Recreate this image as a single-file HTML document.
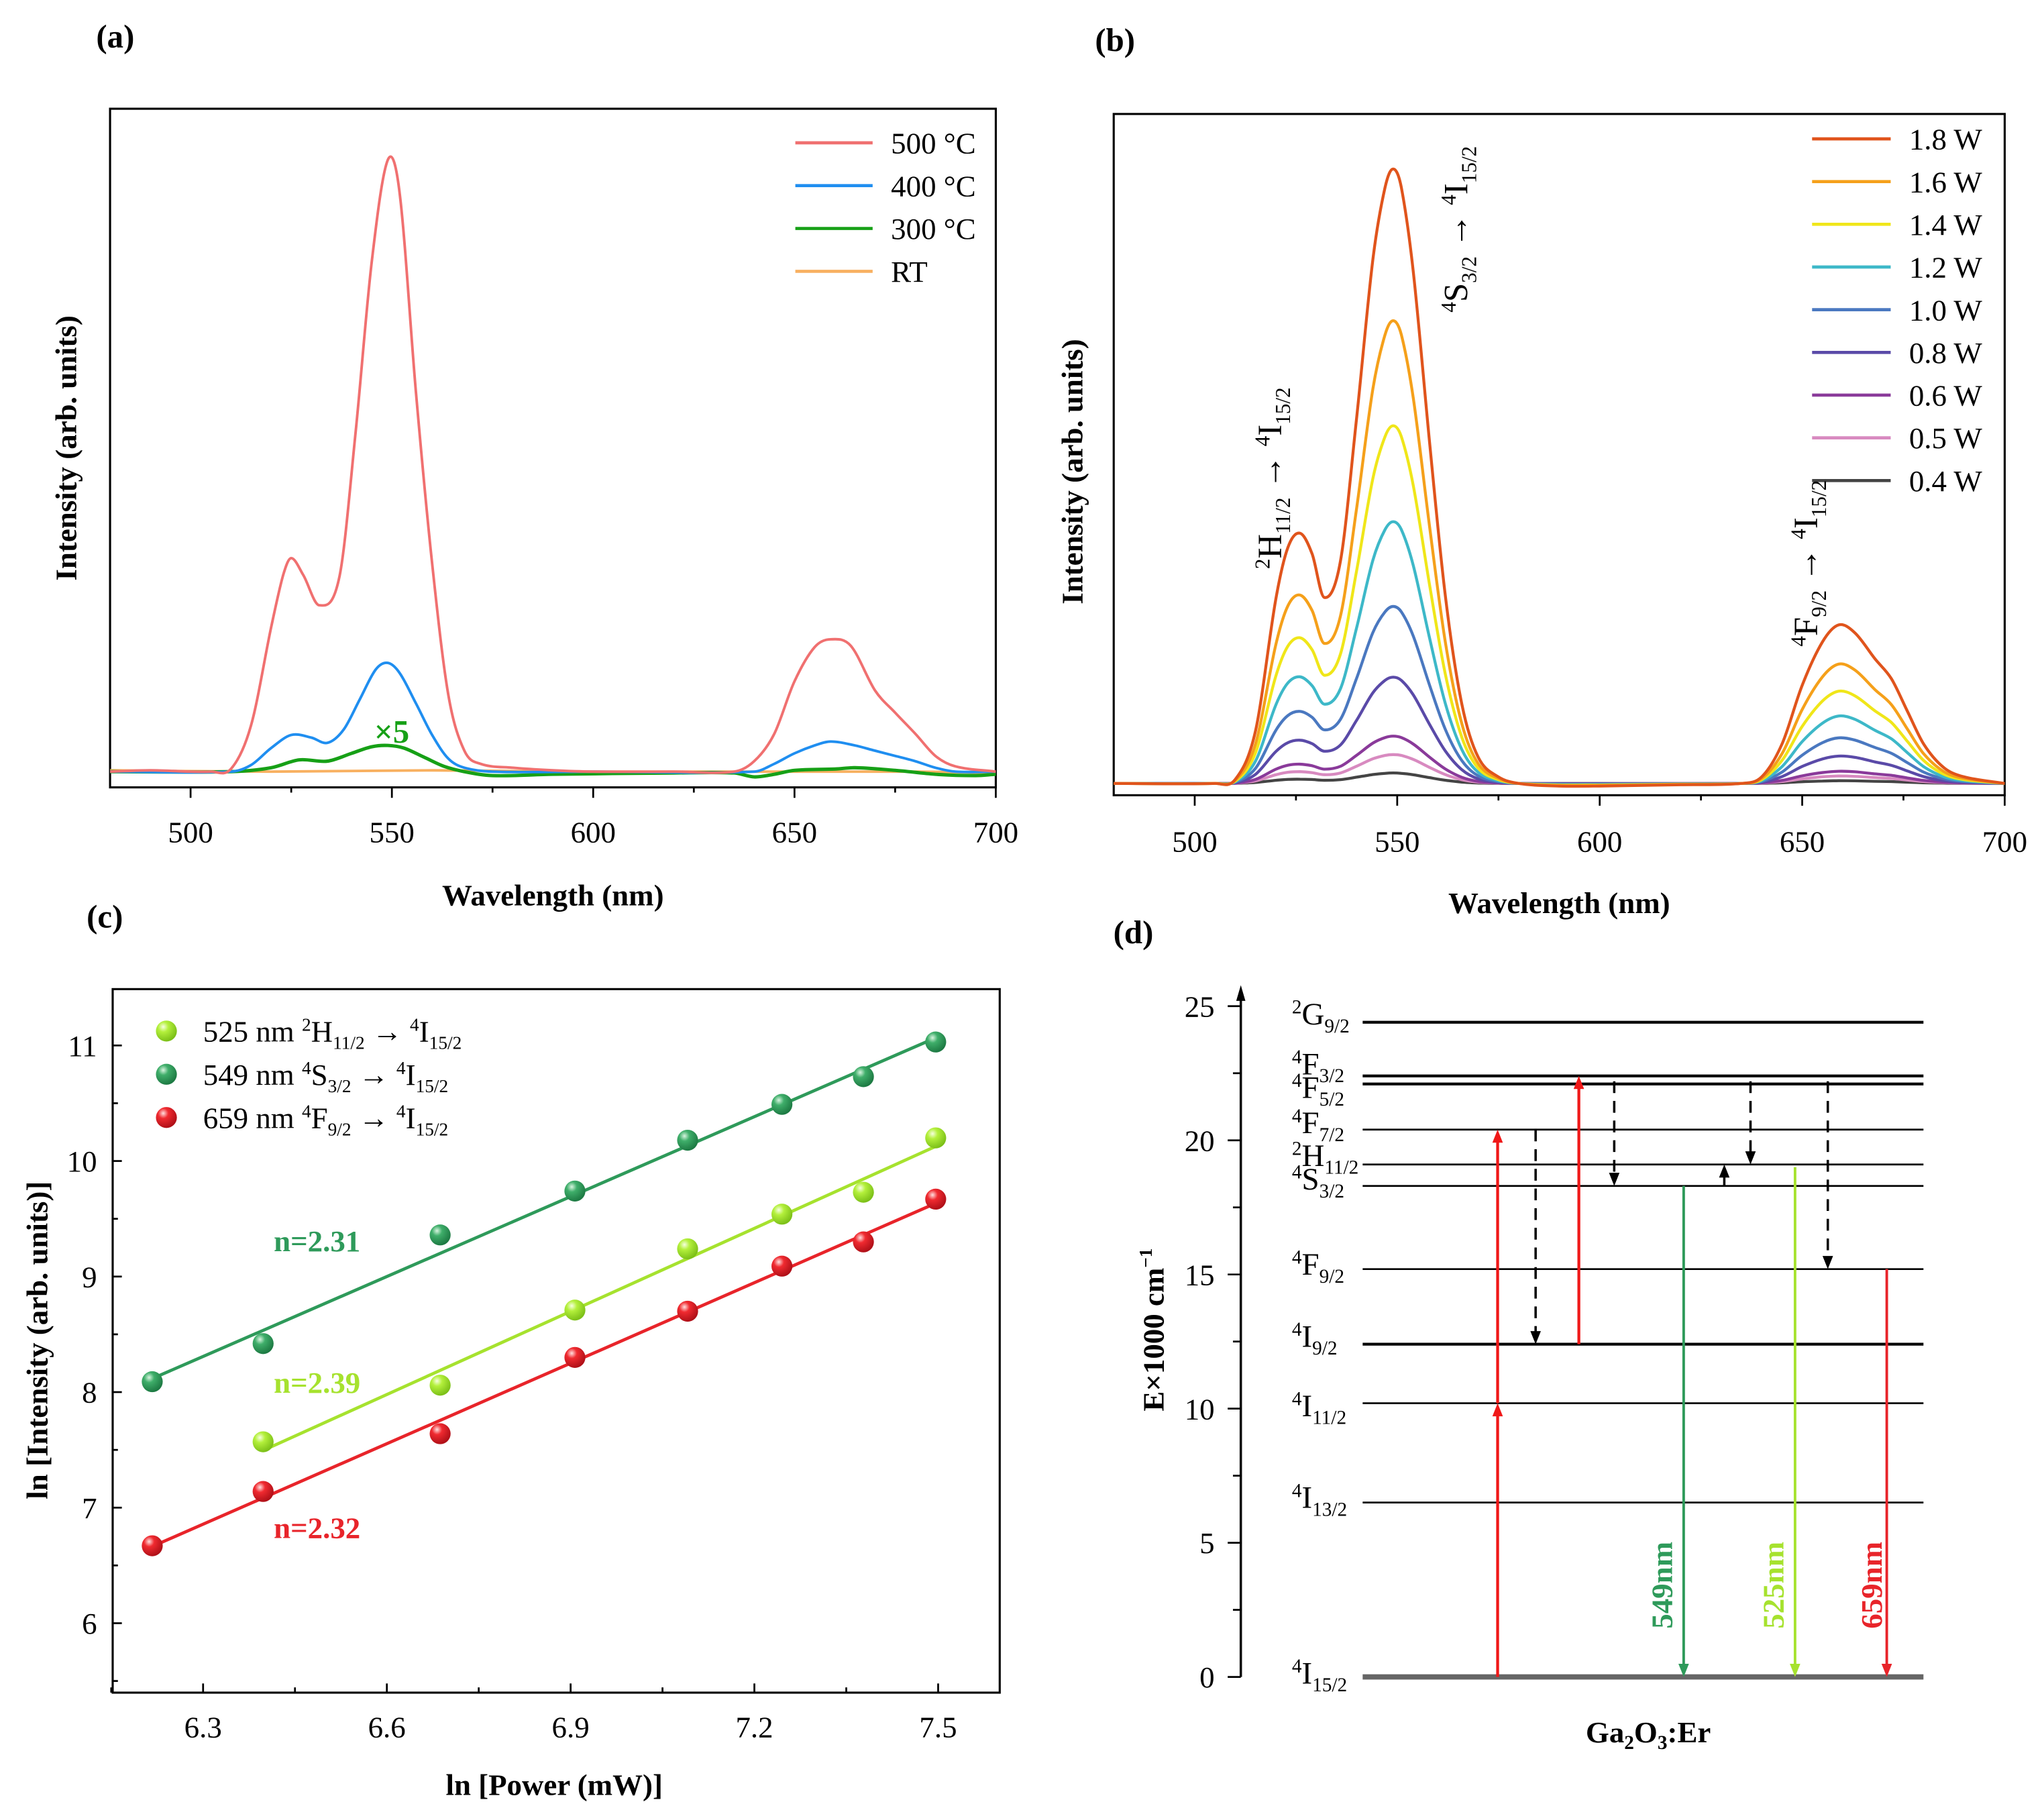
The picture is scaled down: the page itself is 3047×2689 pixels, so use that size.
<!DOCTYPE html>
<html><head><meta charset="utf-8"><style>
html,body{margin:0;padding:0;background:#fff;}
svg{display:block;font-family:"Liberation Serif",serif;}
</style></head><body>
<svg id="fig" xmlns="http://www.w3.org/2000/svg" width="3047" height="2689" viewBox="0 0 1560 1377" preserveAspectRatio="none" font-family="Liberation Serif, serif">
<defs>
<radialGradient id="gDark" cx="0.35" cy="0.3" r="0.7"><stop offset="0" stop-color="#d8f5e0"/><stop offset="0.35" stop-color="#3fae6a"/><stop offset="1" stop-color="#1d7a43"/></radialGradient>
<radialGradient id="gLight" cx="0.35" cy="0.3" r="0.7"><stop offset="0" stop-color="#f6ffe0"/><stop offset="0.35" stop-color="#b4f03c"/><stop offset="1" stop-color="#7cc018"/></radialGradient>
<radialGradient id="gRed" cx="0.35" cy="0.3" r="0.7"><stop offset="0" stop-color="#ffe0e0"/><stop offset="0.35" stop-color="#f02a30"/><stop offset="1" stop-color="#b01018"/></radialGradient>
</defs>
<g id="pa"></g>
<g id="pb"></g>
<g id="pc"></g>
<g id="pd"></g>
</svg>
<script>
// ---------- Panel (a) data ----------
const aX500 = [480,490,500,505,510,515,520,523,525,528,532,537,541,545,549,552,556,560,564,568,572,580,590,600,620,635,640,645,650,655,659,664,670,675,680,685,690,700];
const aY500 = [0,1,0,0,2,35,110,150,163,150,127,149,259,389,467,440,289,159,59,16,6,3,1,0,0,0,8,29,69,95,101,96,62,45,29,12,4,0];
const aX400 = [480,510,515,520,525,530,534,538,542,546,549,552,556,560,564,568,575,600,640,645,650,655,659,665,670,675,680,685,690,700];
const aY400 = [0,0,5,18,28,26,22,32,55,78,83,75,52,28,10,3,0,0,0,6,14,20,23,20,16,12,8,3,0,0];
const aX300 = [480,510,520,527,534,540,545,549,553,558,563,568,575,590,620,635,640,645,650,660,665,675,685,695,700];
const aY300 = [0,0,3,9,8,14,19,20,18,11,4,0,-3,-2,-1,-1,-4,-2,1,2,3,1,-2,-3,-2];
const aXRT = [480,520,560,600,640,680,700];
const aYRT = [1,0,1,0,0,0,-1];
const aTicks = [500,550,600,650,700];
const aLegend = ["500 °C","400 °C","300 °C","RT"];

// ---------- Panel (b) data ----------
const bX = [480,505,510,515,520,523,526,529,532,536,540,544,547,549,551,554,558,562,566,570,575,580,590,600,620,635,640,645,650,655,659,663,668,672,676,680,685,690,700];
const bShape = [0,0,3,40,140,180,191,175,142,170,280,400,455,469,455,390,260,140,60,20,5,0,-2,-2,-1,0,5,30,75,108,121,115,95,80,55,30,12,5,0];
const bAmp = [1,0.753,0.582,0.426,0.288,0.173,0.077,0.047,0.017];
const bLegend = ["1.8 W","1.6 W","1.4 W","1.2 W","1.0 W","0.8 W","0.6 W","0.5 W","0.4 W"];
const bTicks = [500,550,600,650,700];

// ---------- Panel (c) data ----------
const cX = [6.217,6.398,6.687,6.907,7.091,7.245,7.378,7.496];
const c549 = [8.09,8.42,9.36,9.74,10.18,10.49,10.73,11.03];
const cX525 = [6.398,6.687,6.907,7.091,7.245,7.378,7.496];
const c525 = [7.57,8.06,8.71,9.24,9.54,9.73,10.20];
const c659 = [6.67,7.14,7.64,8.30,8.70,9.09,9.30,9.67];
const cXTicks = [6.3,6.6,6.9,7.2,7.5];
const cYTicks = [6,7,8,9,10,11];
const cSlopes = ["n=2.31","n=2.39","n=2.32"];

// ---------- Panel (d) data ----------
const dLevels = [24.4,22.4,22.1,20.4,19.1,18.3,15.2,12.4,10.2,6.5,0];
const dYTicks = [0,5,10,15,20,25];

const NS="http://www.w3.org/2000/svg";
function mk(parent,tag,attrs){const e=document.createElementNS(NS,tag);for(const k in attrs)e.setAttribute(k,attrs[k]);parent.appendChild(e);return e;}
function smooth(pts){let d="M"+pts[0][0].toFixed(1)+","+pts[0][1].toFixed(1);
 const n=pts.length,m=[];
 for(let i=0;i<n;i++){const a=pts[Math.max(0,i-1)],b=pts[Math.min(n-1,i+1)];m.push((b[1]-a[1])/(b[0]-a[0]));}
 for(let i=0;i<n-1;i++){const p1=pts[i],p2=pts[i+1],dx=(p2[0]-p1[0])/3;
 d+="C"+(p1[0]+dx).toFixed(1)+","+(p1[1]+m[i]*dx).toFixed(1)+" "+(p2[0]-dx).toFixed(1)+","+(p2[1]-m[i+1]*dx).toFixed(1)+" "+p2[0].toFixed(1)+","+p2[1].toFixed(1);}return d;}
function txt(parent,x,y,html,attrs){const t=mk(parent,"text",Object.assign({x:x,y:y,"font-family":"Liberation Serif, serif"},attrs||{}));t.innerHTML=html;return t;}
function term(sup,main,sub,fs){const s=Math.round(fs*0.62);return `<tspan font-size="${s}" dy="${-fs*0.35}">${sup}</tspan><tspan dy="${fs*0.35}">${main}</tspan><tspan font-size="${s}" dy="${fs*0.25}">${sub}</tspan><tspan dy="${-fs*0.25}"> </tspan>`;}

// ================= Panel A =================
const pa=document.getElementById("pa");
const xa=v=>84+(v-480)*(676/220), ya=v=>589-v;
const fa=mk(pa,"rect",{x:84,y:83,width:676,height:518,fill:"none",stroke:"#000","stroke-width":1.6});


for(let v=500;v<=700;v+=25){const l=mk(pa,"line",{x1:xa(v),x2:xa(v),y1:601,y2:v%50===0?609:605,stroke:"#000","stroke-width":1.4});

}
aTicks.forEach(v=>{const t=txt(pa,xa(v),643,v,{"font-size":23,"text-anchor":"middle"});

});
const sA=[[aX500,aY500,"#f07070"],[aX400,aY400,"#1f8ef0"],[aX300,aY300,"#16a016"],[aXRT,aYRT,"#f8b060"]];
const aNames=["series-500c","series-400c","series-300c","series-rt"];
sA.slice().reverse().forEach((s,ri)=>{const i=3-ri;const p=mk(pa,"path",{d:smooth(s[0].map((x,j)=>[xa(x),ya(s[1][j])])),fill:"none",stroke:s[2],"stroke-width":i===2?2.6:2});

});
const x5=txt(pa,299,567,"×5",{"font-size":25,"font-weight":"bold",fill:"#16a016","text-anchor":"middle"});


aLegend.forEach((n,i)=>{const y=109+i*32.7;const l=mk(pa,"line",{x1:607,x2:666,y1:y,y2:y,stroke:sA[i][2],"stroke-width":2.4});


const t=txt(pa,680,y+8,n,{"font-size":23});

});
let t=txt(pa,422,691,"Wavelength (nm)",{"font-size":23,"font-weight":"bold","text-anchor":"middle"});


t=txt(pa,0,0,"Intensity (arb. units)",{"font-size":23,"font-weight":"bold","text-anchor":"middle",transform:"translate(58,342) rotate(-90)"});


t=txt(pa,88,36,"(a)",{"font-size":25,"font-weight":"bold","text-anchor":"middle"});



// ================= Panel B =================
const pb=document.getElementById("pb");
const xb=v=>850+(v-480)*(680/220), yb=v=>598-v;
const fb=mk(pb,"rect",{x:850,y:87,width:680,height:520,fill:"none",stroke:"#000","stroke-width":1.6});


for(let v=500;v<=700;v+=25){const l=mk(pb,"line",{x1:xb(v),x2:xb(v),y1:607,y2:v%50===0?615:611,stroke:"#000","stroke-width":1.4});

}
bTicks.forEach(v=>{const t=txt(pb,xb(v),650,v,{"font-size":23,"text-anchor":"middle"});

});
const bCol=["#e0541c","#f5a01a","#f0e619","#3db8c8","#4a78c0","#5a4aa8","#8a3a9a","#d88ac0","#444444"];
for(let i=bAmp.length-1;i>=0;i--){const p=mk(pb,"path",{d:smooth(bX.map((x,j)=>[xb(x),yb(bShape[j]*bAmp[i])])),fill:"none",stroke:bCol[i],"stroke-width":2.2});

}
bLegend.forEach((n,i)=>{const y=106+i*32.6;const l=mk(pb,"line",{x1:1383,x2:1443,y1:y,y2:y,stroke:bCol[i],"stroke-width":2.4});


const t=txt(pb,1457,y+8,n,{"font-size":23});

});
t=txt(pb,0,0,term("2","H","11/2",26)+"→ "+term("4","I","15/2",26),{"font-size":26,"text-anchor":"middle",transform:"translate(978,365) rotate(-90)"});


t=txt(pb,0,0,term("4","S","3/2",26)+"→ "+term("4","I","15/2",26),{"font-size":26,"text-anchor":"middle",transform:"translate(1120,175) rotate(-90)"});


t=txt(pb,0,0,term("4","F","9/2",26)+"→ "+term("4","I","15/2",26),{"font-size":26,"text-anchor":"middle",transform:"translate(1387,430) rotate(-90)"});


t=txt(pb,1190,697,"Wavelength (nm)",{"font-size":23,"font-weight":"bold","text-anchor":"middle"});


t=txt(pb,0,0,"Intensity (arb. units)",{"font-size":23,"font-weight":"bold","text-anchor":"middle",transform:"translate(826,360) rotate(-90)"});


t=txt(pb,851,39,"(b)",{"font-size":25,"font-weight":"bold","text-anchor":"middle"});



// ================= Panel C =================
const pc=document.getElementById("pc");
const xc=v=>155+(v-6.3)*467.5, yc=v=>798-(v-11)*88.2;
const fc=mk(pc,"rect",{x:86,y:755,width:677,height:537,fill:"none",stroke:"#000","stroke-width":1.6});


for(let v=6.15;v<7.6;v+=0.15){const maj=Math.abs(((v-6.3)/0.3)-Math.round((v-6.3)/0.3))<0.01;const l=mk(pc,"line",{x1:xc(v),x2:xc(v),y1:1292,y2:maj?1285:1288,stroke:"#000","stroke-width":1.4});

}
for(let v=5.5;v<11.5;v+=0.5){const l=mk(pc,"line",{x1:86,x2:Number.isInteger(v)?93:90,y1:yc(v),y2:yc(v),stroke:"#000","stroke-width":1.4});

}
cXTicks.forEach(v=>{const t=txt(pc,xc(v),1326,v.toFixed(1),{"font-size":23,"text-anchor":"middle"});

});
cYTicks.forEach(v=>{const t=txt(pc,74,yc(v)+8,v,{"font-size":23,"text-anchor":"end"});

});
function fit(xs,ys){const n=xs.length,mx=xs.reduce((a,b)=>a+b)/n,my=ys.reduce((a,b)=>a+b)/n;let sxy=0,sxx=0;xs.forEach((x,i)=>{sxy+=(x-mx)*(ys[i]-my);sxx+=(x-mx)*(x-mx);});const m=sxy/sxx;return [m,my-m*mx];}
const cSeries=[[cX525,c525,"#a6e22e","url(#gLight)","525"],[cX,c549,"#2e9a5a","url(#gDark)","549"],[cX,c659,"#e8242a","url(#gRed)","659"]];
cSeries.forEach(s=>{const f=fit(s[0],s[1]);const x0=s[0][0],x1=s[0][s[0].length-1];
const l=mk(pc,"line",{x1:xc(x0),y1:yc(f[1]+f[0]*x0),x2:xc(x1),y2:yc(f[1]+f[0]*x1),stroke:s[2],"stroke-width":2.4});


s[0].forEach((x,i)=>{const c=mk(pc,"circle",{cx:xc(x),cy:yc(s[1][i]),r:8,fill:s[3]});

});});
const cLegTerms=[["525 nm ",term("2","H","11/2",23)+"→ "+term("4","I","15/2",23)],["549 nm ",term("4","S","3/2",23)+"→ "+term("4","I","15/2",23)],["659 nm ",term("4","F","9/2",23)+"→ "+term("4","I","15/2",23)]];
cLegTerms.forEach((lt,i)=>{const y=787+i*33;const c=mk(pc,"circle",{cx:127,cy:y,r:8,fill:cSeries[i][3]});


const t=txt(pc,155,y+8,lt[0]+lt[1],{"font-size":23});

});
const slopeY=[947,1055,1166],slopeC=["#2e9a5a","#a6e22e","#e8242a"];
cSlopes.forEach((s,i)=>{const t=txt(pc,242,slopeY[i]+8,s,{"font-size":23,"font-weight":"bold",fill:slopeC[i],"text-anchor":"middle"});

});
t=txt(pc,423,1370,"ln [Power (mW)]",{"font-size":23,"font-weight":"bold","text-anchor":"middle"});


t=txt(pc,0,0,"ln [Intensity (arb. units)]",{"font-size":23,"font-weight":"bold","text-anchor":"middle",transform:"translate(36,1023) rotate(-90)"});


t=txt(pc,80,708,"(c)",{"font-size":25,"font-weight":"bold","text-anchor":"middle"});



// ================= Panel D =================
const pd=document.getElementById("pd");
const yd=v=>1280-v*20.48;
let ax=mk(pd,"line",{x1:947,x2:947,y1:1280,y2:757,stroke:"#000","stroke-width":1.8});


ax=mk(pd,"path",{d:"M947,752 L943.5,764 L950.5,764 Z",fill:"#000"});


for(let v=0;v<=25;v+=2.5){const l=mk(pd,"line",{x1:947,x2:Number.isInteger(v/5)?937:941,y1:yd(v),y2:yd(v),stroke:"#000","stroke-width":1.4});

}
dYTicks.forEach(v=>{const t=txt(pd,927,yd(v)+8,v,{"font-size":23,"text-anchor":"end"});

});
const dLab=[["2","G","9/2",776],["4","F","3/2",814],["4","F","5/2",832],["4","F","7/2",859],["2","H","11/2",884],["4","S","3/2",902],["4","F","9/2",967],["4","I","9/2",1022],["4","I","11/2",1075],["4","I","13/2",1145],["4","I","15/2",1279]];
dLevels.forEach((v,i)=>{const heavy=[0,1,2,7].includes(i);const l=mk(pd,"line",{x1:1040,x2:1468,y1:yd(v),y2:yd(v),stroke:i===10?"#666":"#000","stroke-width":i===10?4:(heavy?2.2:1.4)});


const d=dLab[i];const t=txt(pd,986,d[3]+6,term(d[0],d[1],d[2],24),{"font-size":24});

});
function arrow(x,from,to,col,dash,w,name){const y1=yd(from),y2=yd(to);const dir=y2<y1?-1:1;
const l=mk(pd,"line",{x1:x,x2:x,y1:y1,y2:y2-dir*6,stroke:col,"stroke-width":w||2,"stroke-dasharray":dash?"9,6":"none"});


const h=mk(pd,"path",{d:`M${x},${y2} L${x-4},${y2-dir*10} L${x+4},${y2-dir*10} Z`,fill:col});

}
arrow(1143,0,10.2,"#f01818",false,2.2,"excitation-arrow-1");
arrow(1143,10.2,20.4,"#f01818",false,2.2,"excitation-arrow-2");
arrow(1205,12.4,22.4,"#f01818",false,2.2,"excitation-arrow-3");
arrow(1172,20.4,12.4,"#000",true,1.8,"relax-arrow-1");
arrow(1232,22.2,18.3,"#000",true,1.8,"relax-arrow-2");
arrow(1336,22.2,19.1,"#000",true,1.8,"relax-arrow-3");
arrow(1316,18.3,19.1,"#000",false,1.8,"thermal-arrow");
arrow(1395,22.2,15.2,"#000",true,1.8,"relax-arrow-4");
arrow(1285,18.3,0,"#2e9a5a",false,2,"emission-549");
arrow(1370,19.0,0,"#a6e22e",false,2,"emission-525");
arrow(1440,15.2,0,"#e8242a",false,2,"emission-659");
[["549nm",1276,1210,"#2e9a5a"],["525nm",1361,1210,"#a6e22e"],["659nm",1436,1210,"#e8242a"]].forEach(a=>{const t=txt(pd,0,0,a[0],{"font-size":23,"font-weight":"bold",fill:a[3],"text-anchor":"middle",transform:`translate(${a[1]},${a[2]}) rotate(-90)`});

});
t=txt(pd,0,0,"E×1000 cm<tspan font-size='14' dy='-9'>−1</tspan>",{"font-size":23,"font-weight":"bold","text-anchor":"middle",transform:"translate(888,1015) rotate(-90)"});


t=txt(pd,1258,1330,"Ga<tspan font-size='15' dy='5'>2</tspan><tspan dy='-5'>O</tspan><tspan font-size='15' dy='5'>3</tspan><tspan dy='-5'>:Er</tspan>",{"font-size":23,"font-weight":"bold","text-anchor":"middle"});


t=txt(pd,865,720,"(d)",{"font-size":25,"font-weight":"bold","text-anchor":"middle"});


</script>
</body></html>
